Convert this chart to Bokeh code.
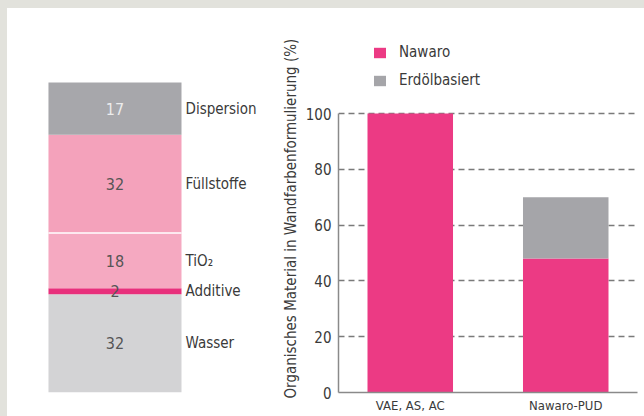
from bokeh.plotting import figure
from bokeh.layouts import row, column
from bokeh.models import (Range1d, FactorRange, ColumnDataSource, Legend,
                          LegendItem, Spacer, Title)
from bokeh.core.properties import value
from bokeh.embed import file_html
from bokeh.resources import INLINE

# --- composition of a wall paint (left stacked bar), bottom to top ---
components = ["Wasser", "Additive", "TiO₂", "Füllstoffe", "Dispersion"]
shares = [32, 2, 18, 32, 17]

# --- organic material in wall paint formulation (right chart) ---
binders = ["VAE, AS, AC", "Nawaro-PUD"]
nawaro = [100, 48]
erdoel = [0, 22]
y_ticks = [0, 20, 40, 60, 80, 100]

FONT = "Liberation Sans Narrow, DejaVu Sans Condensed, sans-serif"
BG = "#e2e2dc"
PINK = "#ec3a84"
GREY = "#a5a5a9"
TXT = "#3a3a3a"

# both panels share the same frame: 384 px tall, bottom edge on the zero line
FRAME_H = 384

# ---------------- left: composition bar ----------------
seg_colors = ["#d3d3d5", "#e8307c", "#f5a9c1", "#f4a2bb", "#a7a7ab"]
num_colors = ["#555555", "#555555", "#555555", "#555555", "#ececec"]
bottoms, tops = [], []
acc = 0
for s in shares:
    bottoms.append(acc)
    acc += s
    tops.append(acc)
mids = [(b + t) / 2 for b, t in zip(bottoms, tops)]
total = acc

src1 = ColumnDataSource(dict(
    x=[0] * len(shares), bottom=bottoms, top=tops, mid=mids,
    color=seg_colors, ncolor=num_colors, share=[str(s) for s in shares],
    name=components, lx=[0.53] * len(shares),
))

bar_px = 310  # pixel height of the whole composition bar
p1 = figure(width=261, height=408, output_backend="svg", toolbar_location=None,
            x_range=Range1d(-0.808, 1.154),
            y_range=Range1d(0, total * FRAME_H / bar_px),
            min_border=0, min_border_bottom=408 - FRAME_H,
            outline_line_color=None,
            background_fill_color="white", border_fill_color="white")
p1.axis.visible = False
p1.grid.visible = False

p1.vbar(x="x", bottom="bottom", top="top", width=1, fill_color="color",
        line_color=None, source=src1)
# thin white divider between fillers and titanium dioxide
i_fill = components.index("Füllstoffe")
p1.segment(x0=[-0.5], x1=[0.5], y0=[bottoms[i_fill]], y1=[bottoms[i_fill]],
           line_color="white", line_width=1.5)

p1.text(x="x", y="mid", text="share", text_color="ncolor", source=src1,
        text_align="center", text_baseline="middle",
        text_font=value(FONT), text_font_size="16px")
p1.text(x="lx", y="mid", text="name", text_color=TXT, source=src1,
        text_align="left", text_baseline="middle",
        text_font=value(FONT), text_font_size="15px")

# ---------------- right: organic material chart ----------------
src2 = ColumnDataSource(dict(binder=binders, Nawaro=nawaro, Erdoel=erdoel))

axis_px = 279  # pixel height of the 0..100 axis
p2 = figure(width=376, height=408, output_backend="svg", toolbar_location=None,
            x_range=FactorRange(factors=binders, range_padding=-0.0385),
            y_range=Range1d(0, 100 * FRAME_H / axis_px),
            min_border_left=70, min_border_right=7, min_border_top=0,
            min_border_bottom=408 - FRAME_H, outline_line_color=None,
            background_fill_color="white", border_fill_color="white")

stack = p2.vbar_stack(["Nawaro", "Erdoel"], x="binder", width=0.55,
                      color=[PINK, GREY], line_color=None, source=src2)

p2.xgrid.visible = False
p2.ygrid.ticker = y_ticks[1:]
p2.ygrid.grid_line_color = "#7a7a7a"
p2.ygrid.grid_line_dash = "6 4"
p2.ygrid.grid_line_width = 1.3

p2.yaxis.ticker = y_ticks
p2.yaxis.bounds = (0, 100)
for ax in (p2.xaxis[0], p2.yaxis[0]):
    ax.axis_line_color = "#8a8a8a"
    ax.axis_line_width = 1.5
    ax.major_tick_line_color = None
    ax.minor_tick_line_color = None
    ax.major_tick_out = 0
    ax.major_tick_in = 0
    ax.major_label_text_font = FONT
    ax.major_label_text_color = TXT
p2.yaxis.major_label_text_font_size = "15px"
p2.yaxis.major_label_standoff = 7
p2.xaxis.major_label_text_font_size = "13px"
p2.xaxis.major_label_standoff = 5

p2.add_layout(Title(text="Organisches Material in Wandfarbenformulierung (%)",
                    align="left", offset=-6, standoff=6,
                    text_font=FONT, text_font_size="15px",
                    text_font_style="normal", text_color=TXT), "left")

legend = Legend(items=[LegendItem(label="Nawaro", renderers=[stack[0]]),
                       LegendItem(label="Erdölbasiert", renderers=[stack[1]])],
                location=(34, 303), orientation="vertical",
                glyph_width=15, glyph_height=13, label_standoff=12,
                label_height=13, spacing=10, padding=0, margin=0,
                border_line_color=None, background_fill_alpha=0,
                label_text_font=FONT, label_text_font_size="15px",
                label_text_color=TXT)
p2.add_layout(legend)

# ---------------- page ----------------
top_strip = Spacer(width=644, height=8, styles={"background-color": BG})
left_strip = Spacer(width=7, height=408, styles={"background-color": BG})
page = column(top_strip, row(left_strip, p1, p2, spacing=0), spacing=0)

open("out.html", "w").write(file_html(page, INLINE))
